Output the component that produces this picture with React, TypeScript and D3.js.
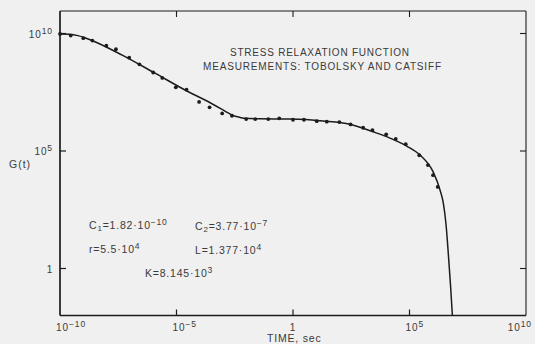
import React from "react";
import * as d3 from "d3";

// measured points: log10(time, sec), log10(G)
const pointLogT = [-10.0, -9.54, -9.0, -8.61, -8.01, -7.6, -7.03, -6.59, -6.0, -5.61, -5.03, -4.57, -4.03, -3.58, -3.04, -2.62, -2.01, -1.62, -1.06, -0.59, 0.0, 0.47, 1.02, 1.45, 1.99, 2.47, 3.01, 3.41, 4.0, 4.41, 4.84, 5.42, 5.79, 6.01, 6.21];
const pointLogG = [9.98, 9.91, 9.8, 9.7, 9.48, 9.33, 8.97, 8.69, 8.34, 8.11, 7.71, 7.61, 7.09, 6.86, 6.6, 6.5, 6.36, 6.36, 6.36, 6.39, 6.33, 6.33, 6.27, 6.25, 6.23, 6.13, 5.99, 5.89, 5.71, 5.51, 5.29, 4.82, 4.4, 3.97, 3.47];

// fitted curve
const curveLogT = [-10.0, -9.57, -9.23, -8.93, -8.5, -7.35, -5.92, -4.49, -3.78, -2.92, -2.58, -2.27, -2.06, -1.42, -0.13, 1.29, 2.45, 3.43, 4.16, 4.88, 5.45, 6.01, 6.31, 6.45, 6.57, 6.67, 6.76, 6.84];
const curveLogG = [9.98, 9.97, 9.91, 9.82, 9.65, 9.09, 8.31, 7.52, 7.17, 6.7, 6.51, 6.43, 6.39, 6.37, 6.36, 6.28, 6.14, 5.82, 5.55, 5.21, 4.83, 4.12, 3.34, 2.79, 1.85, 0.57, -0.7, -2.0];

const xTickExp = [-10, -5, 0, 5, 10];
const xTickLabels = [["10", "−10"], ["10", "−5"], ["1", ""], ["10", "5"], ["10", "10"]];
const yTickExp = [10, 5, 0];
const yTickLabels = [["10", "10"], ["10", "5"], ["1", ""]];

const titleLines = ["STRESS RELAXATION FUNCTION", "MEASUREMENTS: TOBOLSKY AND CATSIFF"];

export default function App() {
  const W = 535, H = 344;
  const x = d3.scaleLog().domain([1e-10, 1e10]).range([60, 526]);
  const y = d3.scaleLog().domain([1e-2, 1e11]).range([315.5, 10]);
  const ink = "#1c1c1c";
  const txt = "#3a3a3a";
  const font = "'Liberation Sans', Arial, sans-serif";

  const curveData = curveLogT.map((t, i) => [Math.pow(10, t), Math.pow(10, curveLogG[i])] as [number, number]);
  const line = d3
    .line<[number, number]>()
    .x((d) => x(d[0]))
    .y((d) => y(d[1]))
    .curve(d3.curveMonotoneX);

  const x0 = x.range()[0], x1 = x.range()[1];
  const yb = y.range()[0], yt = 11;
  const tl = 6;

  return (
    <svg width={W} height={H} style={{ position: "absolute", left: 0, top: 0, background: "#f0f0f0" }}>
      <rect x={0} y={0} width={W} height={H} fill="#f0f0f0" />
      {/* frame */}
      <line x1={x0} x2={x1} y1={yt} y2={yt} stroke={ink} strokeWidth={1.1} />
      <line x1={x1} x2={x1} y1={yt} y2={yb} stroke={ink} strokeWidth={1.1} />
      <line x1={x0} x2={x0} y1={yt} y2={yb} stroke={ink} strokeWidth={1.7} />
      <line x1={x0} x2={x1} y1={yb} y2={yb} stroke={ink} strokeWidth={1.7} />
      {/* x ticks */}
      {xTickExp.slice(1, -1).map((e) => (
        <g key={"xt" + e}>
          <line x1={x(Math.pow(10, e))} x2={x(Math.pow(10, e))} y1={yb} y2={yb - tl} stroke={ink} strokeWidth={1.2} />
          <line x1={x(Math.pow(10, e))} x2={x(Math.pow(10, e))} y1={yt} y2={yt + tl} stroke={ink} strokeWidth={1.1} />
        </g>
      ))}
      {/* y ticks */}
      {yTickExp.map((e) => (
        <g key={"yt" + e}>
          <line x1={x0} x2={x0 + tl} y1={y(Math.pow(10, e))} y2={y(Math.pow(10, e))} stroke={ink} strokeWidth={1.2} />
          <line x1={x1} x2={x1 - tl} y1={y(Math.pow(10, e))} y2={y(Math.pow(10, e))} stroke={ink} strokeWidth={1.1} />
        </g>
      ))}
      {/* x labels */}
      {xTickExp.map((e, i) => {
        const lab = xTickLabels[i];
        const px = x(Math.pow(10, e));
        const isLast = i === xTickExp.length - 1;
        const sx = lab[1] === "" ? px : isLast ? 532 : px - 4;
        const anchor = lab[1] === "" ? "middle" : isLast ? "end" : "start";
        return (
          <text key={"xl" + e} x={sx} y={331} fill={txt} fontFamily={font} fontSize={10} letterSpacing={0.9} textAnchor={anchor}>
            <tspan>{lab[0]}</tspan>
            {lab[1] !== "" && (
              <tspan dy={-4} fontSize={8.5}>
                {lab[1]}
              </tspan>
            )}
          </text>
        );
      })}
      {/* y labels */}
      {yTickExp.map((e, i) => {
        const lab = yTickLabels[i];
        const py = y(Math.pow(10, e));
        return (
          <text key={"yl" + e} x={lab[1] === "" ? 50 : 53} y={py + 4} fill={txt} fontFamily={font} fontSize={10} letterSpacing={0.9} textAnchor={lab[1] === "" ? "middle" : "end"}>
            <tspan>{lab[0]}</tspan>
            {lab[1] !== "" && (
              <tspan dy={-4} fontSize={8.5}>
                {lab[1]}
              </tspan>
            )}
          </text>
        );
      })}
      <text x={9} y={168} fill={txt} fontFamily={font} fontSize={10.5} letterSpacing={1}>G(t)</text>
      <text x={267} y={342} fill={txt} fontFamily={font} fontSize={10.5} letterSpacing={0.8}>TIME, sec</text>
      {/* title */}
      <text x={230} y={56} fill={txt} fontFamily={font} fontSize={10} textLength={179} lengthAdjust="spacing">{titleLines[0]}</text>
      <text x={203} y={70} fill={txt} fontFamily={font} fontSize={10} textLength={238} lengthAdjust="spacing">{titleLines[1]}</text>
      {/* parameters */}
      <g fill={txt} fontFamily={font} fontSize={10.5} letterSpacing={0.8}>
        <text x={89} y={229}>
          C<tspan dy={2} fontSize={8}>1</tspan><tspan dy={-2}>=1.82·10</tspan><tspan dy={-4} fontSize={8.5}>−10</tspan>
        </text>
        <text x={195} y={230}>
          C<tspan dy={2} fontSize={8}>2</tspan><tspan dy={-2}>=3.77·10</tspan><tspan dy={-4} fontSize={8.5}>−7</tspan>
        </text>
        <text x={89} y={253}>
          r=5.5·10<tspan dy={-4} fontSize={8.5}>4</tspan>
        </text>
        <text x={195} y={254}>
          L=1.377·10<tspan dy={-4} fontSize={8.5}>4</tspan>
        </text>
        <text x={145} y={277}>
          K=8.145·10<tspan dy={-4} fontSize={8.5}>3</tspan>
        </text>
      </g>
      {/* curve */}
      <defs>
        <clipPath id="plotclip">
          <rect x={x0} y={yt} width={x1 - x0} height={yb - yt} />
        </clipPath>
      </defs>
      <path d={line(curveData) || ""} fill="none" stroke={ink} strokeWidth={1.5} clipPath="url(#plotclip)" />
      {/* points */}
      {pointLogT.map((t, i) => (
        <circle key={"p" + i} cx={x(Math.pow(10, t))} cy={y(Math.pow(10, pointLogG[i]))} r={1.9} fill={ink} />
      ))}
    </svg>
  );
}
